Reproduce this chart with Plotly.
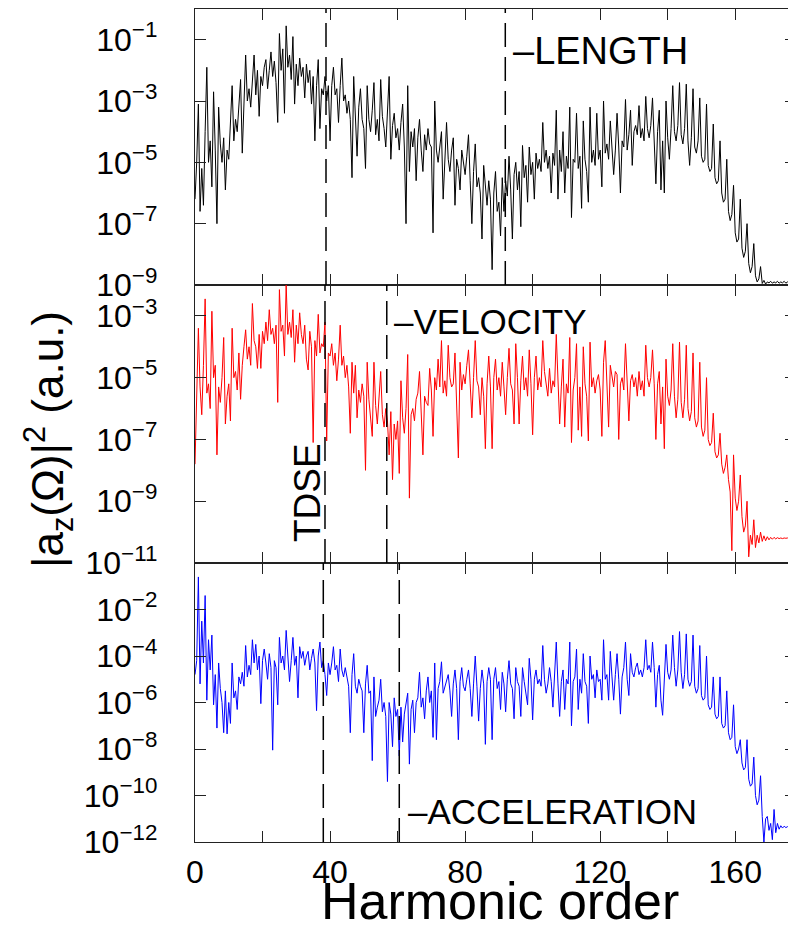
import plotly.graph_objects as go

# ---------------- data (log10 of |a_z(Omega)|^2) ----------------
harmonic_step = 0.5  # sampling of harmonic order: 0, 0.5, 1, ... 178

length_log10 = [
    -6.2, -5.0, -3.1, -6.6, -5.2, -6.4, -4.0, -1.9, -5.0, -4.3, -5.8, -2.7, -4.6, -7.0, -3.2, -4.4, -5.0, -4.2, -5.9, -4.6,
    -4.9, -3.9, -2.5, -4.3, -3.6, -4.0, -3.3, -2.3, -4.7, -3.0, -1.5, -3.0, -2.6, -3.2, -2.3, -1.5, -2.8, -2.0, -3.5, -2.2,
    -2.5, -1.9, -1.65, -2.6, -2.0, -1.4, -2.2, -1.7, -2.4, -3.7, -0.8, -2.0, -1.3, -3.4, -0.55, -1.9, -1.5, -2.3, -0.9, -3.1,
    -1.8, -2.5, -1.6, -2.2, -1.9, -2.9, -1.8, -2.4, -2.0, -3.1, -2.2, -4.3, -2.5, -1.65, -3.9, -2.6, -2.8, -2.2, -3.0, -2.5,
    -4.3, -2.5, -1.9, -2.8, -2.6, -3.7, -2.5, -1.6, -3.0, -2.8, -3.4, -3.0, -3.6, -5.5, -2.2, -3.3, -4.8, -3.2, -2.6, -3.6,
    -3.9, -5.2, -2.5, -3.6, -4.0, -3.3, -2.4, -4.1, -3.6, -4.3, -2.3, -3.5, -3.9, -4.5, -3.3, -2.2, -4.9, -3.8, -3.4, -4.2,
    -3.9, -4.6, -3.7, -3.1, -4.5, -7.0, -2.5, -5.3, -4.0, -4.5, -3.9, -5.6, -4.2, -3.6, -4.6, -5.3, -4.1, -4.6, -3.9, -4.4,
    -4.5, -7.3, -3.0, -4.6, -5.0, -4.4, -4.0, -6.2, -4.8, -3.7, -4.9, -5.3, -4.6, -4.2, -6.4, -4.9, -5.2, -5.9, -4.6, -5.0,
    -5.4, -4.8, -4.1, -5.6, -7.0, -5.3, -4.4, -5.8, -5.5, -6.0, -7.5, -5.1, -5.9, -6.4, -5.6, -6.2, -8.5, -6.0, -5.3, -6.6,
    -6.3, -7.4, -5.5, -6.6, -5.6, -6.1, -4.8, -5.9, -7.5, -5.4, -5.0, -5.9, -5.3, -7.1, -4.45, -5.5, -5.1, -6.3, -4.5, -5.4,
    -5.0, -6.2, -4.7, -5.2, -4.9, -5.3, -3.7, -5.0, -4.6, -5.2, -4.8, -6.0, -4.7, -5.1, -3.3, -6.2, -4.6, -5.3, -4.0, -6.0,
    -4.8, -5.2, -3.2, -6.8, -4.9, -5.0, -3.4, -5.2, -4.8, -6.5, -3.65, -4.9, -5.3, -6.3, -3.2, -5.0, -4.6, -5.1, -3.4, -4.9,
    -4.6, -5.8, -3.0, -4.7, -4.4, -4.9, -3.65, -4.5, -5.4, -4.6, -3.4, -4.5, -6.0, -4.3, -4.5, -2.95, -4.6, -4.1, -3.3, -5.1,
    -4.0, -3.8, -4.1, -3.15, -4.2, -3.9, -4.3, -2.85, -3.9, -4.2, -3.8, -2.9, -4.3, -5.7, -4.0, -3.3, -5.9, -4.3, -6.0, -3.0,
    -4.2, -4.9, -3.9, -2.5, -4.0, -4.3, -3.8, -2.4, -4.1, -4.4, -3.9, -2.45, -4.3, -5.1, -4.2, -2.6, -4.5, -4.7, -4.3, -2.9,
    -4.8, -5.0, -4.9, -3.1, -5.1, -5.3, -5.2, -3.75, -5.5, -5.7, -5.6, -4.3, -6.0, -6.3, -6.2, -4.9, -6.6, -6.9, -6.7, -5.75,
    -7.3, -7.6, -7.5, -6.2, -7.8, -8.1, -7.9, -7.0, -8.3, -8.6, -8.4, -7.65, -8.7, -8.9, -8.8, -8.4, -8.95, -8.85, -8.97, -8.9,
    -8.93, -8.88, -8.94, -8.9, -8.93, -8.88, -8.94, -8.9, -8.93, -8.88, -8.94, -8.9, -8.93, -8.88, -8.94, -8.9, -8.92,
]

velocity_log10 = [
    -7.8, -5.0, -3.4, -5.3, -6.2, -4.6, -2.45, -5.5, -5.2, -6.0, -2.85, -5.0, -4.6, -7.5, -5.3, -5.8, -5.0, -3.7, -6.5, -5.6,
    -5.2, -6.4, -3.4, -5.0, -4.8, -5.4, -4.2, -5.7, -4.6, -4.0, -3.45, -4.4, -4.0, -4.6, -2.6, -3.8, -4.0, -4.7, -3.6, -4.7,
    -3.5, -3.9, -3.2, -3.8, -2.8, -3.6, -3.4, -3.9, -3.3, -5.8, -2.15, -3.5, -3.3, -4.3, -2.0, -3.6, -3.2, -3.7, -2.8, -4.5,
    -3.3, -3.9, -2.9, -3.6, -3.9, -3.3, -4.4, -4.75, -3.5, -4.0, -7.1, -3.8, -4.3, -2.95, -4.2, -3.9, -4.0, -3.2, -7.05, -4.2,
    -4.3, -3.9, -4.6, -4.2, -5.1, -4.4, -3.3, -4.6, -4.3, -5.0, -4.6, -5.3, -6.8, -4.5, -5.5, -4.6, -6.3, -5.4, -5.8, -5.2,
    -5.6, -8.0, -4.5, -5.7, -6.2, -6.9, -4.5, -5.9, -6.5, -5.8, -4.8, -6.2, -6.6, -6.0, -6.4, -7.5, -6.1, -8.3, -6.5, -7.0,
    -6.4, -8.1, -5.1, -6.3, -6.8, -6.0, -4.25, -8.9, -6.2, -6.0, -6.4, -5.7, -5.5, -4.8, -6.2, -7.5, -5.6, -5.8, -5.9, -4.7,
    -5.4, -6.9, -5.0, -5.4, -4.4, -5.3, -3.8, -5.5, -5.1, -5.6, -3.95, -5.0, -5.3, -5.2, -4.2, -5.6, -7.6, -4.5, -5.4, -4.9,
    -5.2, -4.6, -4.1, -5.2, -6.3, -5.0, -3.8, -5.1, -5.3, -6.2, -5.0, -5.6, -7.3, -5.2, -4.3, -5.3, -7.3, -5.0, -4.4, -5.4,
    -5.0, -5.6, -4.5, -5.3, -6.2, -5.0, -4.05, -5.2, -5.4, -6.5, -3.9, -5.0, -6.5, -5.1, -4.3, -5.4, -5.0, -5.6, -4.1, -5.2,
    -6.85, -5.0, -4.3, -5.4, -5.0, -5.3, -3.8, -4.8, -5.2, -5.6, -4.7, -5.5, -5.1, -5.3, -3.6, -5.2, -6.5, -5.3, -4.4, -6.6,
    -5.2, -5.5, -3.7, -7.1, -5.4, -5.0, -3.9, -6.7, -5.3, -6.9, -4.0, -5.2, -5.6, -7.05, -3.85, -5.3, -5.0, -5.5, -5.1, -4.9,
    -5.4, -6.9, -4.5, -3.8, -5.2, -6.6, -4.6, -5.0, -5.3, -4.8, -4.9, -7.0, -5.2, -5.0, -5.4, -3.9, -5.1, -6.4, -5.1, -4.9,
    -5.3, -5.0, -5.6, -4.8, -5.4, -5.1, -5.6, -3.95, -5.0, -5.3, -5.0, -4.1, -5.2, -7.0, -5.2, -4.8, -6.5, -5.3, -7.3, -4.4,
    -5.6, -5.9, -5.4, -3.9, -5.6, -6.3, -5.7, -3.85, -5.8, -6.3, -5.7, -3.95, -6.0, -6.4, -6.1, -4.2, -6.3, -6.6, -6.4, -4.5,
    -6.6, -6.9, -6.7, -5.0, -7.0, -7.2, -7.1, -6.15, -7.4, -7.6, -7.5, -6.8, -7.8, -8.1, -7.9, -7.5, -8.3, -8.7, -10.6, -7.5,
    -8.9, -9.3, -9.0, -8.15, -9.5, -10.0, -9.8, -9.0, -10.8, -10.1, -10.4, -9.6, -10.5, -10.1, -10.35, -10.0, -10.3, -10.12, -10.28, -10.15,
    -10.25, -10.17, -10.23, -10.17, -10.22, -10.18, -10.21, -10.19, -10.21, -10.19, -10.2, -10.19, -10.21, -10.19, -10.2, -10.2, -10.2,
]

acceleration_log10 = [
    -4.8, -4.2, -0.6, -5.2, -2.5, -4.3, -1.4, -5.9, -3.3, -4.6, -3.1, -6.1, -4.8, -7.1, -4.3, -5.4, -6.0, -7.3, -5.5, -7.35,
    -6.0, -6.9, -4.3, -5.8, -5.5, -6.3, -4.9, -5.2, -4.7, -5.3, -3.55, -4.9, -4.4, -4.8, -3.3, -4.3, -3.5, -4.6, -4.0, -6.05,
    -4.2, -3.7, -4.3, -5.0, -3.9, -4.5, -8.05, -4.2, -4.5, -6.1, -3.2, -4.3, -4.0, -4.6, -2.9, -4.1, -5.1, -4.2, -3.2, -4.4,
    -4.0, -5.8, -3.6, -4.1, -3.8, -4.4, -4.0, -3.8, -4.6, -4.1, -3.7, -4.3, -6.35, -4.0, -3.4, -4.5, -4.2, -4.8, -5.7, -4.3,
    -4.8, -4.3, -3.6, -4.6, -4.4, -5.1, -3.7, -4.6, -4.9, -4.5, -5.0, -5.3, -7.3, -4.8, -3.9, -5.3, -5.6, -5.0, -5.3, -5.5,
    -7.3, -5.2, -4.4, -5.6, -5.5, -8.5, -4.9, -6.6, -6.2, -5.9, -5.0, -6.4, -6.0, -6.6, -9.4, -6.0, -6.5, -7.9, -5.8, -6.6,
    -6.3, -8.3, -6.2, -7.7, -6.5, -6.1, -5.6, -8.65, -6.3, -5.9, -7.3, -6.0, -5.8, -4.7, -6.2, -5.8, -6.7, -5.5, -4.9, -6.0,
    -5.5, -7.5, -4.3, -7.6, -5.4, -5.1, -4.25, -5.6, -5.3, -5.0, -4.8, -5.5, -6.6, -5.2, -4.6, -5.4, -7.6, -5.1, -4.5, -5.3,
    -5.5, -5.0, -4.6, -5.4, -6.6, -5.2, -4.0, -5.3, -6.8, -5.4, -4.6, -5.2, -7.8, -5.1, -4.5, -5.0, -7.6, -5.0, -4.5, -5.4,
    -5.1, -6.3, -4.7, -5.2, -6.4, -5.0, -4.2, -5.2, -5.4, -6.7, -4.5, -5.1, -5.3, -6.6, -4.5, -5.1, -5.6, -6.1, -4.1, -5.0,
    -6.75, -5.0, -4.6, -5.2, -5.0, -5.3, -3.55, -5.0, -5.6, -5.2, -4.5, -5.1, -6.2, -5.0, -3.4, -5.2, -6.6, -5.1, -4.6, -6.3,
    -5.0, -5.2, -3.4, -7.0, -5.1, -4.9, -3.7, -6.3, -5.0, -5.6, -3.9, -5.1, -5.3, -6.9, -4.0, -5.0, -4.8, -5.8, -4.6, -5.1,
    -5.0, -5.9, -3.3, -5.0, -4.8, -5.9, -3.8, -4.9, -5.9, -4.8, -3.9, -5.0, -6.5, -4.9, -4.5, -3.4, -5.0, -5.7, -3.9, -4.7,
    -4.9, -4.5, -4.3, -4.8, -4.6, -4.9, -4.5, -3.3, -4.6, -4.4, -4.7, -3.4, -4.5, -6.2, -4.8, -4.4, -5.9, -6.55, -4.7, -3.5,
    -4.7, -5.0, -4.6, -3.1, -4.5, -5.3, -4.6, -2.95, -4.7, -5.4, -4.8, -3.05, -5.0, -5.3, -5.1, -3.1, -5.3, -5.6, -5.4, -3.55,
    -5.7, -5.9, -5.8, -4.0, -6.1, -6.3, -6.2, -4.9, -6.5, -6.7, -6.6, -4.9, -6.9, -7.1, -7.0, -5.5, -7.3, -7.6, -7.5, -6.1,
    -7.9, -8.2, -8.0, -7.6, -8.6, -8.9, -8.8, -7.6, -9.3, -9.6, -9.5, -8.35, -10.0, -10.4, -10.2, -9.15, -10.9, -12.0, -11.0, -10.9,
    -11.5, -11.2, -11.9, -10.6, -11.6, -11.2, -11.45, -11.3, -11.4, -11.32, -11.38, -11.34, -11.36, -11.35, -11.36, -11.35, -11.35,
]

# dashed markers (harmonic order) per panel
length_lines = [38.8, 91.9]
velocity_lines = [38.5, 56.8]
acceleration_lines = [38.0, 60.5]

x_tickvals = [0, 20, 40, 60, 80, 100, 120, 140, 160]
x_ticktext = ["0", "", "40", "", "80", "", "120", "", "160"]

y1_exps = [-1, -3, -5, -7, -9]
y2_exps = [-3, -5, -7, -9, -11]
y3_exps = [-2, -4, -6, -8, -10, -12]

# ---------------- figure ----------------
FONT = "Liberation Sans, Arial, sans-serif"
PAGE_OFFSET = 8          # default body margin of the html page
PLOT_LEFT, PLOT_RIGHT = 195, 796   # page pixels
PLOT_TOP, PLOT_BOTTOM = 9, 842

def hx(vals):
    return [i * harmonic_step for i in range(len(vals))]

def lin(vals):
    return [10 ** v for v in vals]

fig = go.Figure()
fig.add_trace(go.Scatter(x=hx(length_log10), y=lin(length_log10), mode="lines",
                         line=dict(color="black", width=1), xaxis="x", yaxis="y", showlegend=False))
fig.add_trace(go.Scatter(x=hx(velocity_log10), y=lin(velocity_log10), mode="lines",
                         line=dict(color="#ff0000", width=1), xaxis="x2", yaxis="y2", showlegend=False))
fig.add_trace(go.Scatter(x=hx(acceleration_log10), y=lin(acceleration_log10), mode="lines",
                         line=dict(color="#0000ff", width=1), xaxis="x3", yaxis="y3", showlegend=False))

def py(v):
    return (PLOT_BOTTOM - v) / float(PLOT_BOTTOM - PLOT_TOP)

def px(v):
    return (v - PLOT_LEFT) / float(PLOT_RIGHT - PLOT_LEFT)

dom1 = [py(285), 1.0]
dom2 = [py(563), py(285)]
dom3 = [0.0, py(563)]

axcommon = dict(showline=True, linecolor="#222", linewidth=1.4, mirror="allticks",
                ticks="inside", ticklen=11, tickwidth=1, tickcolor="#222",
                showgrid=False, zeroline=False, automargin=False)

def sup(e):
    return "10<sup>\u2212%d</sup>" % (-e)

xcommon = dict(axcommon, range=[0, 178], tickvals=x_tickvals, ticktext=x_ticktext)
tfont = dict(size=32, family=FONT, color="black")

fig_w = PLOT_RIGHT - PAGE_OFFSET
fig_h = 933 - PAGE_OFFSET
fig.update_layout(
    width=fig_w, height=fig_h,
    margin=dict(l=PLOT_LEFT - PAGE_OFFSET, r=0, t=PLOT_TOP - PAGE_OFFSET,
                b=fig_h - (PLOT_BOTTOM - PAGE_OFFSET)),
    paper_bgcolor="white", plot_bgcolor="white",
    font=dict(family=FONT, color="black", size=31),
    xaxis=dict(xcommon, anchor="y", showticklabels=False),
    xaxis2=dict(xcommon, anchor="y2", showticklabels=False),
    xaxis3=dict(xcommon, anchor="y3", showticklabels=True, tickfont=tfont, ticklabelstandoff=1),
    yaxis=dict(axcommon, domain=dom1, type="log", range=[-9, 0], anchor="x",
               tickvals=[10.0 ** e for e in y1_exps], ticktext=[sup(e) for e in y1_exps],
               tickfont=tfont, ticklabelstandoff=30),
    yaxis2=dict(axcommon, domain=dom2, type="log", range=[-11, -2], anchor="x2",
                tickvals=[10.0 ** e for e in y2_exps], ticktext=[sup(e) for e in y2_exps],
                tickfont=tfont, ticklabelstandoff=30),
    yaxis3=dict(axcommon, domain=dom3, type="log", range=[-12, 0], anchor="x3",
                tickvals=[10.0 ** e for e in y3_exps], ticktext=[sup(e) for e in y3_exps],
                tickfont=tfont, ticklabelstandoff=30),
)

shapes = []
for xr, yr, vals in (("x", "y", length_lines), ("x2", "y2", velocity_lines), ("x3", "y3", acceleration_lines)):
    for v in vals:
        shapes.append(dict(type="line", xref=xr, yref=yr + " domain", x0=v, x1=v, y0=0, y1=1,
                           line=dict(color="black", width=1.5, dash="24px,10px")))
fig.update_layout(shapes=shapes)

annots = [
    dict(text="\u2013LENGTH", x=px(511), y=py(51), xanchor="left", yanchor="middle",
         font=dict(size=38)),
    dict(text="\u2013VELOCITY", x=px(392), y=py(321), xanchor="left", yanchor="middle",
         font=dict(size=35)),
    dict(text="\u2013ACCELERATION", x=px(406), y=py(811), xanchor="left", yanchor="middle",
         font=dict(size=35)),
    dict(text="TDSE", x=px(307), y=py(493), xanchor="center", yanchor="middle",
         textangle=-90, font=dict(size=37)),
    dict(text="Harmonic order", x=px(500), y=py(901), xanchor="center", yanchor="middle",
         font=dict(size=52)),
    dict(text="|a<sub>z</sub>(\u03a9)|<sup>2</sup> (a.u.)", x=px(48), y=py(440),
         xanchor="center", yanchor="middle", textangle=-90, font=dict(size=44)),
]
for a in annots:
    a.update(xref="paper", yref="paper", showarrow=False)
    a["font"].update(family=FONT, color="black")
fig.update_layout(annotations=annots)

fig.write_html("out.html")
